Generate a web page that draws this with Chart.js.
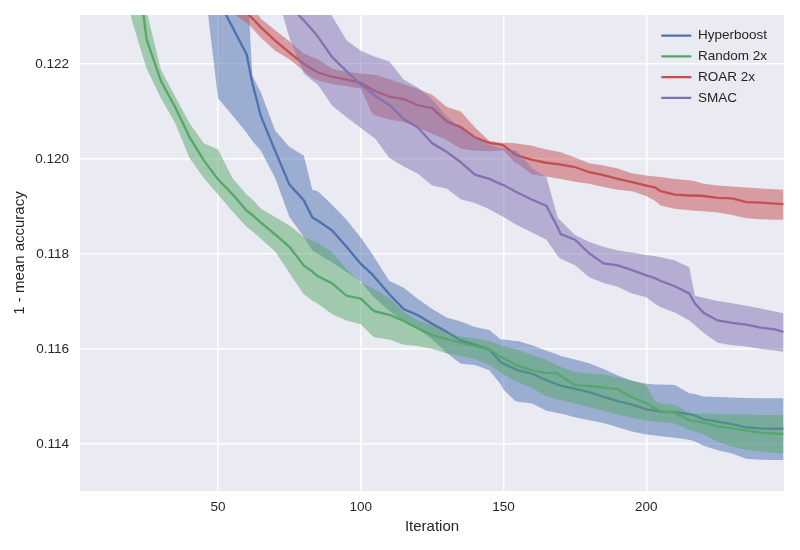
<!DOCTYPE html>
<html>
<head>
<meta charset="utf-8">
<script src="https://cdn.jsdelivr.net/npm/chart.js@4.4.0/dist/chart.umd.min.js"></script>
<style>
html,body{margin:0;padding:0;background:#ffffff;}
#wrap{width:800px;height:550px;}
</style>
</head>
<body>
<div id="wrap"><canvas id="c" width="800" height="550" style="width:800px;height:550px"></canvas></div>
<script>
const iterations = [0,5,10,15,20,25,30,35,40,45,50,55,60,62,65,70,75,80,83,85,90,95,100,104,105,110,115,120,125,130,135,140,145,149,150,154,155,160,165,169,170,175,180,185,190,195,200,203,205,210,215,217,220,225,230,235,240,245,248];

const seriesLabels = ['Hyperboost', 'Random 2x', 'ROAR 2x', 'SMAC'];

const hyperboostMean = [0.1290,0.1285,0.1280,0.1274,0.1268,0.1262,0.1256,0.1250,0.1245,0.1240,0.12335,0.12278,0.12220,0.12160,0.12090,0.12017,0.11946,0.11913,0.11877,0.11870,0.11849,0.11815,0.11779,0.11757,0.11750,0.11715,0.11684,0.11671,0.11653,0.11636,0.11618,0.11609,0.11599,0.11572,0.11569,0.11558,0.11555,0.11548,0.11534,0.11525,0.11523,0.11516,0.11509,0.11499,0.11490,0.11483,0.11473,0.11470,0.11468,0.11467,0.11463,0.11460,0.11452,0.11447,0.11442,0.11435,0.11433,0.11432,0.11432];
const hyperboostUpper = [0.1310,0.1305,0.1300,0.1295,0.1290,0.1285,0.1280,0.1275,0.1270,0.1265,0.1258,0.1250,0.1240,0.12175,0.12140,0.12060,0.12025,0.12007,0.11935,0.11932,0.11903,0.11872,0.11834,0.11800,0.11790,0.11743,0.11729,0.11705,0.11684,0.11666,0.11658,0.11646,0.11640,0.11620,0.11620,0.11617,0.11617,0.11608,0.11596,0.11588,0.11585,0.11578,0.11570,0.11558,0.11544,0.11533,0.11527,0.11525,0.11525,0.11524,0.11507,0.11505,0.11500,0.11499,0.11498,0.11497,0.11496,0.11496,0.11496];
const hyperboostLower = [0.1285,0.1280,0.1275,0.1270,0.1265,0.1260,0.1255,0.1250,0.1245,0.1238,0.12128,0.12092,0.12055,0.12038,0.12017,0.11960,0.11878,0.11836,0.11808,0.11800,0.11782,0.11762,0.11742,0.11712,0.11707,0.11680,0.11658,0.11642,0.11620,0.11592,0.11569,0.11566,0.11555,0.11525,0.11514,0.11491,0.11489,0.11485,0.11470,0.11465,0.11464,0.11456,0.11450,0.11444,0.11435,0.11426,0.11420,0.11418,0.11416,0.11413,0.11409,0.11405,0.11396,0.11387,0.11380,0.11369,0.11367,0.11366,0.11366];

const randomMean = [0.1320,0.1305,0.1288,0.1268,0.1248,0.12251,0.12164,0.12109,0.12046,0.11997,0.11957,0.11926,0.11891,0.11882,0.11866,0.11841,0.11815,0.11776,0.11763,0.11753,0.11738,0.11712,0.11706,0.11683,0.11679,0.11672,0.11659,0.11643,0.11629,0.11621,0.11613,0.11606,0.11599,0.11583,0.11581,0.11568,0.11565,0.11555,0.11549,0.11549,0.11543,0.11524,0.11522,0.11519,0.11515,0.11498,0.11486,0.11475,0.11468,0.11466,0.11450,0.11448,0.11445,0.11437,0.11433,0.11428,0.11424,0.11422,0.11421];
const randomUpper = [0.1330,0.1320,0.1310,0.1295,0.1262,0.1231,0.12188,0.12131,0.12075,0.12033,0.12020,0.11960,0.11925,0.11915,0.11895,0.11878,0.11860,0.11836,0.11828,0.11823,0.11803,0.11768,0.11740,0.11728,0.11725,0.11707,0.11678,0.11660,0.11650,0.11636,0.11626,0.11622,0.11617,0.11608,0.11606,0.11600,0.11598,0.11588,0.11577,0.11565,0.11562,0.11552,0.11548,0.11546,0.11540,0.11533,0.11524,0.11490,0.11485,0.11482,0.11465,0.11464,0.11464,0.11463,0.11462,0.11462,0.11461,0.11461,0.11461];
const randomLower = [0.1275,0.1265,0.1255,0.1242,0.12288,0.12190,0.12128,0.12075,0.12002,0.11960,0.11925,0.11890,0.11857,0.11848,0.11832,0.11805,0.11760,0.11715,0.11702,0.11695,0.11673,0.11660,0.11652,0.11628,0.11624,0.11620,0.11609,0.11606,0.11600,0.11591,0.11585,0.11579,0.11566,0.11550,0.11545,0.11532,0.11530,0.11518,0.11500,0.11494,0.11492,0.11485,0.11478,0.11470,0.11462,0.11455,0.11450,0.11447,0.11446,0.11443,0.11430,0.11426,0.11420,0.11405,0.11394,0.11388,0.11384,0.11381,0.11380];

const roarMean = [0.1290,0.1285,0.1280,0.1275,0.1270,0.1265,0.1260,0.1255,0.1250,0.1245,0.1240,0.12345,0.12308,0.12296,0.12277,0.12249,0.12224,0.12200,0.12189,0.12182,0.12173,0.12167,0.12160,0.12146,0.12143,0.12131,0.12126,0.12113,0.12107,0.12079,0.12067,0.12045,0.12034,0.12030,0.12028,0.12010,0.12007,0.11998,0.11992,0.11989,0.11988,0.11983,0.11972,0.11966,0.11958,0.11951,0.11944,0.11940,0.11932,0.11925,0.11923,0.11923,0.11922,0.11918,0.11917,0.11909,0.11908,0.11906,0.11905];
const roarUpper = [0.1295,0.1290,0.1285,0.1280,0.1275,0.1270,0.1265,0.1260,0.1255,0.1250,0.1245,0.1239,0.1234,0.12322,0.12295,0.12271,0.12248,0.12222,0.12214,0.12210,0.12190,0.12183,0.12180,0.12178,0.12177,0.12168,0.12158,0.12147,0.12135,0.12110,0.12100,0.12066,0.12038,0.12034,0.12034,0.12033,0.12032,0.12028,0.12020,0.12015,0.12014,0.12003,0.11991,0.11986,0.11980,0.11970,0.11965,0.11963,0.11962,0.11958,0.11955,0.11953,0.11948,0.11944,0.11942,0.11940,0.11938,0.11936,0.11935];
const roarLower = [0.1285,0.1280,0.1275,0.1270,0.1265,0.1260,0.1255,0.1250,0.1245,0.1240,0.1236,0.12308,0.12286,0.12275,0.12255,0.12228,0.12210,0.12185,0.12170,0.12165,0.12158,0.12153,0.12148,0.12095,0.12092,0.12083,0.12078,0.12066,0.12053,0.12040,0.12022,0.12017,0.12016,0.12018,0.12018,0.11992,0.11990,0.11967,0.11963,0.11959,0.11958,0.11952,0.11948,0.11941,0.11935,0.11932,0.11922,0.11912,0.11902,0.11895,0.11892,0.11891,0.11890,0.11887,0.11882,0.11875,0.11873,0.11872,0.11872];

const smacMean = [0.1300,0.1296,0.1292,0.1288,0.1284,0.1280,0.1276,0.1272,0.1268,0.1264,0.1258,0.1252,0.1246,0.1244,0.1241,0.1236,0.12322,0.12292,0.12272,0.12257,0.12214,0.12185,0.12156,0.12138,0.12133,0.12114,0.12084,0.12066,0.12033,0.12015,0.11993,0.11967,0.11958,0.11947,0.11945,0.11932,0.11929,0.11914,0.11901,0.11855,0.11842,0.11830,0.11801,0.11780,0.11776,0.11766,0.11755,0.11749,0.11743,0.11732,0.11717,0.11696,0.11676,0.11660,0.11655,0.11651,0.11645,0.11641,0.11636];
const smacUpper = [0.1320,0.1316,0.1312,0.1308,0.1304,0.1300,0.1296,0.1292,0.1288,0.1284,0.1280,0.1275,0.1270,0.1268,0.1265,0.1260,0.1255,0.1248,0.1242,0.1238,0.12300,0.12250,0.12228,0.12217,0.12215,0.12205,0.12167,0.12150,0.12125,0.12090,0.12065,0.12045,0.12030,0.12023,0.12022,0.12018,0.12015,0.11980,0.11962,0.11875,0.11870,0.11840,0.11825,0.11815,0.11807,0.11803,0.11798,0.11795,0.11793,0.11786,0.11772,0.11712,0.11708,0.11701,0.11696,0.11691,0.11685,0.11679,0.11675];
const smacLower = [0.1285,0.1282,0.1279,0.1276,0.1273,0.1270,0.1267,0.1264,0.1261,0.1258,0.1255,0.1251,0.1247,0.1245,0.1242,0.1236,0.12255,0.12180,0.12165,0.12156,0.12112,0.12088,0.12065,0.12047,0.12043,0.12002,0.11984,0.11969,0.11944,0.11938,0.11915,0.11907,0.11894,0.11881,0.11878,0.11863,0.11860,0.11845,0.11830,0.11795,0.11790,0.11776,0.11751,0.11739,0.11731,0.11717,0.11709,0.11695,0.11688,0.11677,0.11660,0.11650,0.11634,0.11613,0.11608,0.11605,0.11600,0.11597,0.11594];

const xTicks = [50, 100, 150, 200];
const yTicks = [0.114, 0.116, 0.118, 0.120, 0.122];

const lineColors = ['#4C72B0', '#55A868', '#C44E52', '#8172B2'];
const bandColors = ['rgba(76,114,176,0.5)', 'rgba(85,168,104,0.5)', 'rgba(196,78,82,0.5)', 'rgba(129,114,178,0.5)'];

const FONT = "'Liberation Sans', Arial, Helvetica, sans-serif";
Chart.defaults.font.family = FONT;
Chart.defaults.color = '#262626';

function toPoints(values) {
  return iterations.map((x, i) => ({x: x, y: values[i]}));
}

const seriesData = [
  {mean: hyperboostMean, upper: hyperboostUpper, lower: hyperboostLower},
  {mean: randomMean, upper: randomUpper, lower: randomLower},
  {mean: roarMean, upper: roarUpper, lower: roarLower},
  {mean: smacMean, upper: smacUpper, lower: smacLower}
];

const datasets = [];
seriesData.forEach((s, k) => {
  const base = datasets.length;
  datasets.push({
    label: seriesLabels[k] + ' upper', band: true,
    data: toPoints(s.upper), borderWidth: 0, borderColor: 'rgba(0,0,0,0)',
    pointRadius: 0, backgroundColor: bandColors[k],
    fill: {target: base + 1}, order: 100 - k * 10, tension: 0
  });
  datasets.push({
    label: seriesLabels[k] + ' lower', band: true,
    data: toPoints(s.lower), borderWidth: 0, borderColor: 'rgba(0,0,0,0)',
    pointRadius: 0, fill: false, order: 99 - k * 10, tension: 0
  });
  datasets.push({
    label: seriesLabels[k],
    data: toPoints(s.mean), borderColor: lineColors[k], backgroundColor: lineColors[k],
    borderWidth: 2.3, pointRadius: 0, fill: false, order: 98 - k * 10, tension: 0,
    clip: 0
  });
});

const bgPlugin = {
  id: 'plotBg',
  beforeDraw(chart) {
    const {ctx, chartArea: a} = chart;
    ctx.save();
    ctx.fillStyle = '#EAEAF2';
    ctx.fillRect(a.left, a.top, a.right - a.left, a.bottom - a.top);
    ctx.restore();
  }
};

const legendPlace = {
  id: 'legendPlace',
  afterLayout(chart) {
    const lg = chart.legend;
    if (!lg) return;
    const a = chart.chartArea;
    lg.left = a.right - 130;
    lg.top = a.top + 6.5;
    lg.right = lg.left + lg.width;
    lg.bottom = lg.top + lg.height;
  }
};

new Chart(document.getElementById('c'), {
  type: 'line',
  data: {datasets: datasets},
  plugins: [bgPlugin, legendPlace],
  options: {
    responsive: false,
    animation: false,
    devicePixelRatio: 1,
    layout: {padding: {left: 0, right: 16, top: 15, bottom: 0}},
    plugins: {
      filler: {propagate: false},
      tooltip: {enabled: false},
      legend: {
        position: 'chartArea',
        align: 'start',
        labels: {
          filter: (item, data) => !data.datasets[item.datasetIndex].band,
          sort: (a, b) => a.datasetIndex - b.datasetIndex,
          usePointStyle: true,
          pointStyle: 'line',
          pointStyleWidth: 30,
          padding: 7.3,
          color: '#262626',
          font: {size: 13.5, family: FONT}
        }
      }
    },
    scales: {
      x: {
        type: 'linear',
        min: 1.65,
        max: 248.2,
        afterFit(scale) { scale.height = 59; scale.paddingLeft = 0; scale.paddingRight = 0; },
        afterBuildTicks(scale) { scale.ticks = xTicks.map(v => ({value: v})); },
        ticks: {padding: 8, color: '#262626', font: {size: 13.5}, callback: (v) => String(v)},
        grid: {color: '#FFFFFF', lineWidth: 1.5, drawTicks: false},
        border: {display: false},
        title: {display: true, text: 'Iteration', color: '#262626', font: {size: 15}, padding: {top: 0, bottom: 14}}
      },
      y: {
        type: 'linear',
        min: 0.11301,
        max: 0.12303,
        afterFit(scale) { scale.width = 80; scale.paddingTop = 0; scale.paddingBottom = 0; },
        afterBuildTicks(scale) { scale.ticks = yTicks.map(v => ({value: v})); },
        ticks: {padding: 11, color: '#262626', font: {size: 13.5}, callback: (v) => Number(v).toFixed(3)},
        grid: {color: '#FFFFFF', lineWidth: 1.5, drawTicks: false},
        border: {display: false},
        title: {display: true, text: '1 - mean accuracy', color: '#262626', font: {size: 15}, padding: {top: 11, bottom: 0}}
      }
    }
  }
});
</script>
</body>
</html>
